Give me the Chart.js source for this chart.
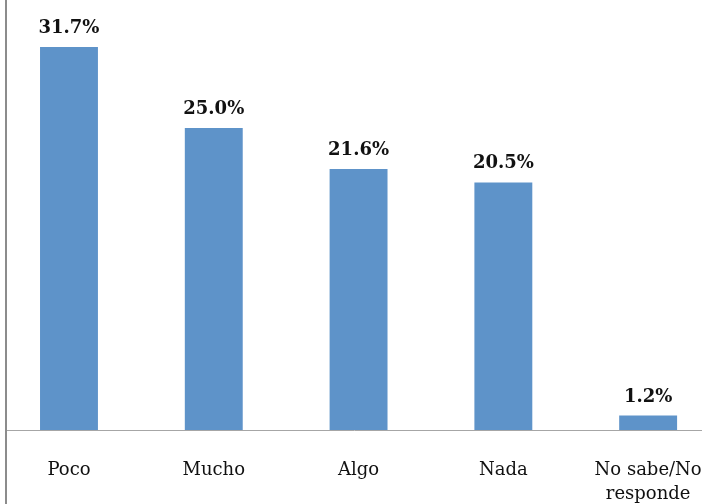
<!DOCTYPE html>
<html>
<head>
<meta charset="utf-8">
<script src="https://cdn.jsdelivr.net/npm/chart.js@4.4.1/dist/chart.umd.min.js"></script>
<style>
  html, body { margin: 0; padding: 0; background: #fff; }
  #wrap { position: relative; width: 702px; height: 504px; }
  #leftLine { position: absolute; left: 5px; top: 0; width: 2px; height: 504px; background: #8c8c8c; }
</style>
</head>
<body>
<div id="wrap">
  <canvas id="chart" width="702" height="504"></canvas>
  <div id="leftLine"></div>
</div>
<script>
const categories = ['Poco', 'Mucho', 'Algo', 'Nada', ['No sabe/No', 'responde']]
const percents = [31.7, 25.0, 21.6, 20.5, 1.2]

// bar value labels drawn above each bar
const valueLabels = {
    id: 'valueLabels',
    afterDatasetsDraw(chart) {
        let ctx = chart.ctx
        let meta = chart.getDatasetMeta(0)
        ctx.save()
        ctx.font = 'bold 18px "DejaVu Serif"'
        ctx.fillStyle = '#111'
        ctx.textAlign = 'center'
        ctx.textBaseline = 'alphabetic'
        meta.data.forEach((bar, i) => {
            ctx.fillText(percents[i].toFixed(1) + '%', bar.x, bar.y - 14)
        })
        ctx.restore()
    }
}

new Chart(document.getElementById('chart'), {
    type: 'bar',
    data: {
        datasets: [{
            data: percents.map((v, i) => ({ x: i, y: v })),
            backgroundColor: '#5e93c9',
            borderWidth: 0,
            categoryPercentage: 1,
            barPercentage: 0.4
        }]
    },
    options: {
        responsive: false,
        animation: false,
        layout: { padding: { left: 6, right: 0, top: 0, bottom: 0 } },
        plugins: { legend: { display: false }, tooltip: { enabled: false } },
        scales: {
            x: {
                type: 'linear',
                offset: false,
                min: -0.435,
                max: 4.372,
                afterBuildTicks: (scale) => { scale.ticks = categories.map((c, i) => ({ value: i })) },
                afterFit: (scale) => {
                    scale.height = 74
                    scale.paddingLeft = 0
                    scale.paddingRight = 0
                },
                grid: { display: false },
                border: { display: true, color: '#a6a6a6', width: 1 },
                ticks: {
                    autoSkip: false,
                    maxRotation: 0,
                    padding: 20,
                    color: '#111',
                    font: { family: 'DejaVu Serif', size: 18, lineHeight: 1.33 },
                    callback: (v) => categories[v]
                }
            },
            y: {
                display: false,
                min: 0,
                max: 35.6
            }
        }
    },
    plugins: [valueLabels]
})
</script>
</body>
</html>
